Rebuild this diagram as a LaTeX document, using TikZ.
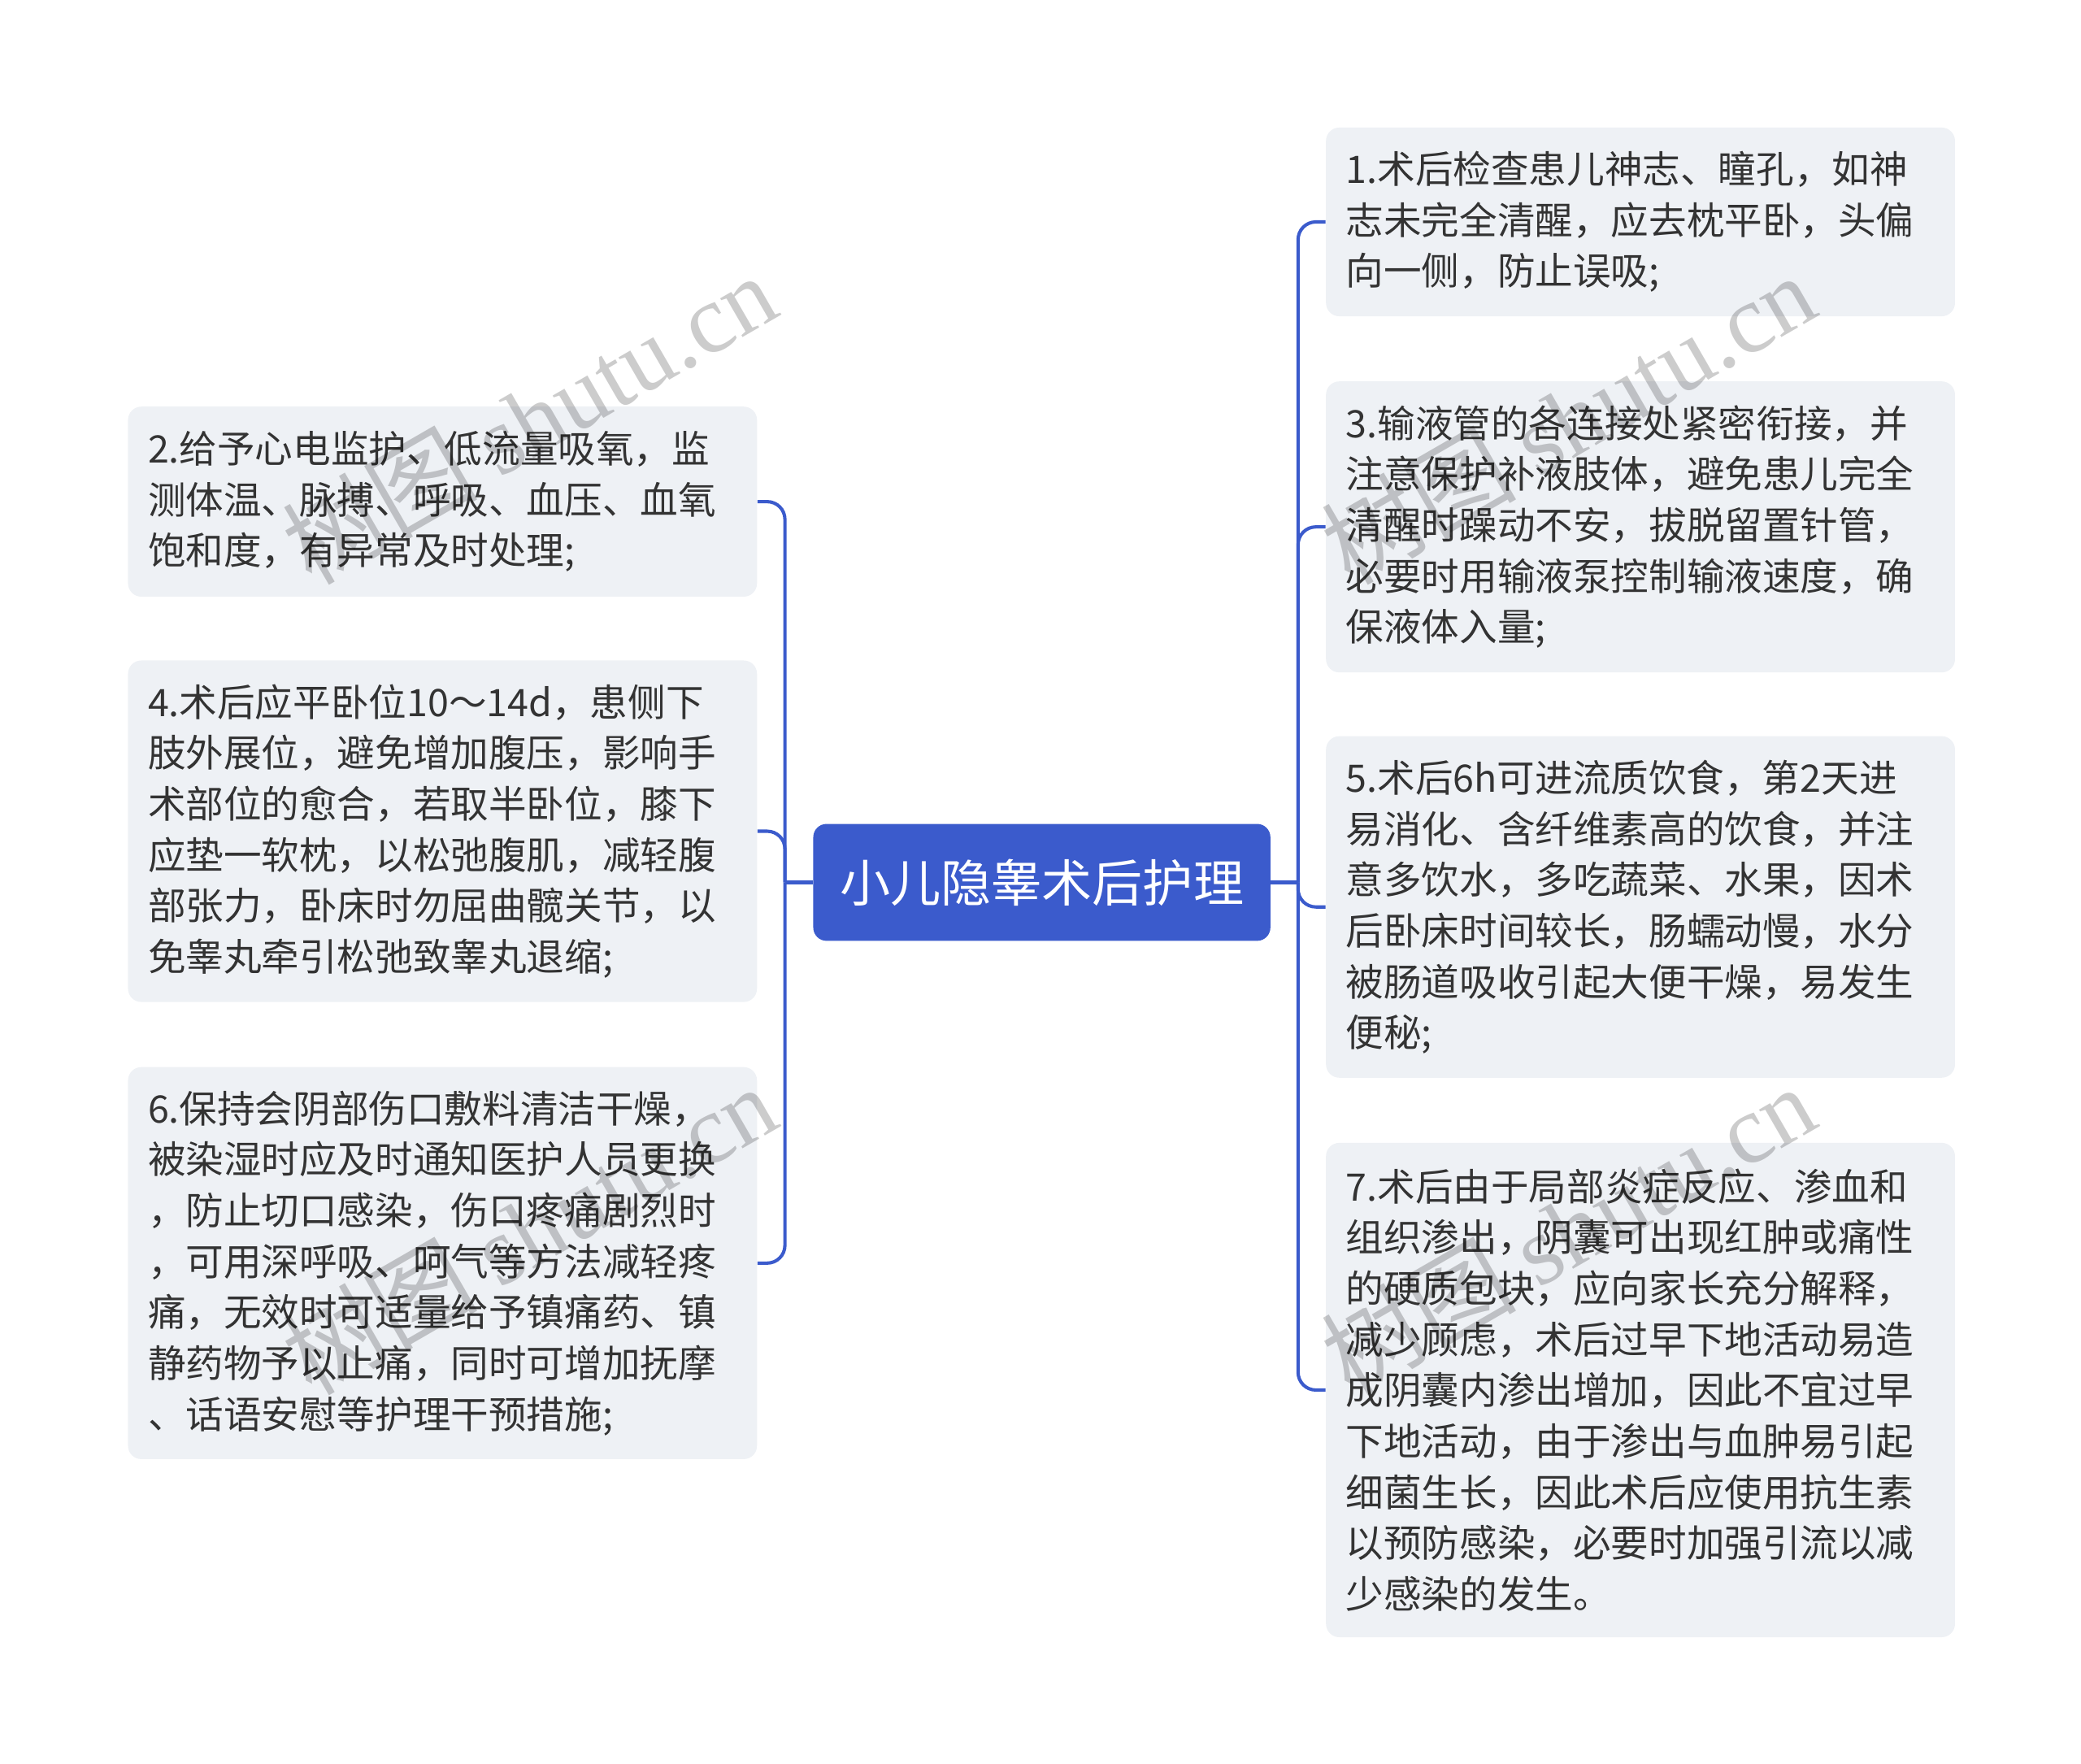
\documentclass[tikz,border=0pt]{standalone}
\usepackage{fontspec}
\newfontfamily\cjk{Noto Sans CJK SC}
\newfontfamily\wmserif{Liberation Serif}
\usepackage{tikz}
\usetikzlibrary{positioning}
\definecolor{mainblue}{HTML}{3B5BCC}
\definecolor{leafgray}{HTML}{EEF1F5}
\definecolor{txtgray}{HTML}{333333}

\begin{document}
\begin{tikzpicture}[
		x=0.6pt, y=-0.6pt,
		topic/.style={fill=mainblue, rounded corners=6pt, text=white, inner sep=0pt,
			minimum width=206.4pt, minimum height=52.8pt,
			font=\cjk\fontsize{22.8pt}{28pt}\selectfont},
		leaf/.style={fill=leafgray, rounded corners=6pt, text=txtgray, align=left,
			text width=266pt, inner xsep=9pt, inner ysep=0pt,
			font=\cjk\fontsize{17.1pt}{23pt}\selectfont},
		branch/.style={draw=mainblue, line width=1.5pt, rounded corners=8pt},
		wmtext/.style={text=black, text opacity=0.2, rotate=30, font=\cjk\fontsize{44pt}{48pt}\selectfont}
		]
		\useasboundingbox (0,0) rectangle (1566,1327);
		
		% Central topic
		\node[topic] (root) at (784,664) {小儿隐睾术后护理};
		
		% Right side
		\node[leaf, minimum height=85.2pt] (s1) at (1234.5,167)
		{1.术后检查患儿神志、瞳孔，如神\\志未完全清醒，应去枕平卧，头偏\\向一侧，防止误吸;};
		\node[leaf, minimum height=131.4pt] (s3) at (1234.5,396.5)
		{3.输液管的各连接处紧密衔接，并\\注意保护补液肢体，避免患儿完全\\清醒时躁动不安，拔脱留置针管，\\必要时用输液泵控制输液速度，确\\保液体入量;};
		\node[leaf, minimum height=154.2pt] (s5) at (1234.5,682.5)
		{5.术后6h可进流质饮食，第2天进\\易消化、含纤维素高的饮食，并注\\意多饮水，多吃蔬菜、水果，因术\\后卧床时间较长，肠蠕动慢，水分\\被肠道吸收引起大便干燥，易发生\\便秘;};
		\node[leaf, minimum height=223.2pt] (s7) at (1234.5,1046)
		{7.术后由于局部炎症反应、渗血和\\组织渗出，阴囊可出现红肿或痛性\\的硬质包块，应向家长充分解释，\\减少顾虑，术后过早下地活动易造\\成阴囊内渗出增加，因此不宜过早\\下地活动，由于渗出与血肿易引起\\细菌生长，因此术后应使用抗生素\\以预防感染，必要时加强引流以减\\少感染的发生。};
		
		% Left side
		\node[leaf, minimum height=85.8pt] (s2) at (333,377.5)
		{2.给予心电监护、低流量吸氧，监\\测体温、脉搏、呼吸、血压、血氧\\饱和度，有异常及时处理;};
		\node[leaf, minimum height=154.2pt] (s4) at (333,625.5)
		{4.术后应平卧位10～14d，患侧下\\肢外展位，避免增加腹压，影响手\\术部位的愈合，若取半卧位，膝下\\应垫一软枕，以松弛腹肌，减轻腹\\部张力，卧床时勿屈曲髋关节，以\\免睾丸牵引松弛致睾丸退缩;};
		\node[leaf, minimum height=177pt] (s6) at (333,950.5)
		{6.保持会阴部伤口敷料清洁干燥，\\被染湿时应及时通知医护人员更换\\，防止切口感染，伤口疼痛剧烈时\\，可用深呼吸、呵气等方法减轻疼\\痛，无效时可适量给予镇痛药、镇\\静药物予以止痛，同时可增加抚摩\\、话语安慰等护理干预措施;};
		
		% Connectors
		\draw[branch] (root.west) -- ++(-21,0) coordinate (lt);
		\draw[branch] (root.east) -- ++(20.5,0) coordinate (rt);
		\foreach \n in {s2,s4,s6}
		\draw[branch] (lt) |- (\n.east);
		\foreach \n in {s1,s3,s5,s7}
		\draw[branch] (rt) |- (\n.west);
		
		% Watermarks
		\node[wmtext] (w1) at (398,315) {树图 {\wmserif shutu.cn}};
		\node[wmtext] (w2) at (1180,315) {树图 {\wmserif shutu.cn}};
		\node[wmtext] (w3) at (398,925) {树图 {\wmserif shutu.cn}};
		\node[wmtext] (w4) at (1180,925) {树图 {\wmserif shutu.cn}};
\end{tikzpicture}
\end{document}
